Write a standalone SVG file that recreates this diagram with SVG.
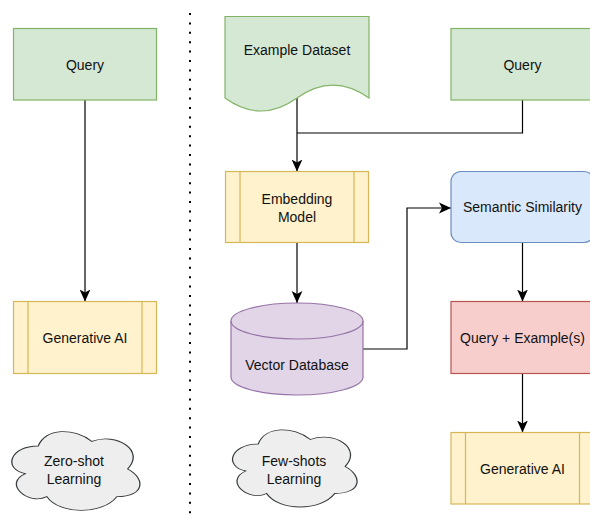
<svg xmlns="http://www.w3.org/2000/svg" width="590" height="522" viewBox="0 0 590 522">
<style>
text{font-family:"Liberation Sans",Arial,Helvetica,sans-serif;font-size:14px;fill:#111;text-anchor:middle;dominant-baseline:central}
.green{fill:#d5e8d4;stroke:#82b366;stroke-width:1.2}
.yellow{fill:#fff2cc;stroke:#d6b656;stroke-width:1.2}
.purple{fill:#e1d5e7;stroke:#9673a6;stroke-width:1.2}
.blue{fill:#dae8fc;stroke:#6c8ebf;stroke-width:1.2}
.red{fill:#f8cecc;stroke:#b85450;stroke-width:1.2}
.cloud{fill:#eeeeee;stroke:#36393d;stroke-width:1}
.edge{fill:none;stroke:#000;stroke-width:1.2}
.arr{marker-end:url(#ah)}
</style>
<defs>
<marker id="ah" markerUnits="userSpaceOnUse" markerWidth="12" markerHeight="12" viewBox="0 0 10 10" refX="10" refY="5" orient="auto">
<path d="M0,0.5 L10,5 L0,9.5 L2.5,5 Z" fill="#000"/>
</marker>
<path id="cloudshape" d="M0.25,0.25 C0.05,0.25 0,0.5 0.16,0.55 C0,0.66 0.18,0.9 0.31,0.8 C0.4,1 0.7,1 0.8,0.8 C1,0.8 1,0.6 0.875,0.5 C1,0.3 0.8,0.1 0.625,0.2 C0.5,0.05 0.3,0.05 0.25,0.25 Z"/>
</defs>
<rect width="590" height="522" fill="#fff"/>

<line id="divider" x1="190" y1="13" x2="190" y2="519" stroke="#000" stroke-width="2" stroke-dasharray="2 7.4"/>

<g id="connectors">
<path class="edge arr" d="M85,100 V301.5"/>
<path class="edge arr" d="M297,98 V171.5"/>
<path class="edge" d="M522.5,100 V133 H297"/>
<path class="edge arr" d="M297,242.5 V303"/>
<path class="edge arr" d="M363,349 H407 V208 H451"/>
<path class="edge arr" d="M522.5,242.5 V301.5"/>
<path class="edge arr" d="M522.5,373.5 V432.5"/>
</g>

<g id="query-left">
<rect class="green" x="13.5" y="28.5" width="143" height="71.5"/>
<text x="85" y="64.5">Query</text>
</g>

<g id="genai-left">
<rect class="yellow" x="13.5" y="301.5" width="143" height="72"/>
<line class="yellow" x1="28" y1="301.5" x2="28" y2="373.5"/>
<line class="yellow" x1="142" y1="301.5" x2="142" y2="373.5"/>
<text x="85" y="337.5">Generative AI</text>
</g>

<g id="cloud-zero">
<use href="#cloudshape" class="cloud" transform="translate(2.5,423) scale(143,92)" vector-effect="non-scaling-stroke" style="stroke-width:0.009"/>
<text x="74" y="461">Zero-shot</text>
<text x="74" y="478.5">Learning</text>
</g>

<g id="example-dataset">
<path class="green" d="M225,16.5 H369 V98 Q333,72.2 297,98 Q261,124 225,98 Z"/>
<text x="297" y="50">Example Dataset</text>
</g>

<g id="query-right">
<rect class="green" x="451" y="28.5" width="143" height="71.5"/>
<text x="522.5" y="64.5">Query</text>
</g>

<g id="embedding-model">
<rect class="yellow" x="225.5" y="171.5" width="143" height="71"/>
<line class="yellow" x1="240" y1="171.5" x2="240" y2="242.5"/>
<line class="yellow" x1="354" y1="171.5" x2="354" y2="242.5"/>
<text x="297" y="199">Embedding</text>
<text x="297" y="216.5">Model</text>
</g>

<g id="vector-database">
<path class="purple" d="M231,321 A66,18 0 0 1 363,321 V377 A66,18 0 0 1 231,377 Z"/>
<path class="purple" style="fill:none" d="M231,321 A66,18 0 0 0 363,321"/>
<text x="297" y="365">Vector Database</text>
</g>

<g id="semantic-similarity">
<rect class="blue" x="451" y="171.5" width="143" height="71" rx="10" ry="10"/>
<text x="522.5" y="207">Semantic Similarity</text>
</g>

<g id="query-example">
<rect class="red" x="451" y="301.5" width="143" height="72"/>
<text x="522.5" y="338">Query + Example(s)</text>
</g>

<g id="genai-right">
<rect class="yellow" x="451" y="432.5" width="143" height="71.5"/>
<line class="yellow" x1="465.5" y1="432.5" x2="465.5" y2="504"/>
<line class="yellow" x1="579.5" y1="432.5" x2="579.5" y2="504"/>
<text x="522.5" y="469">Generative AI</text>
</g>

<g id="cloud-few">
<use href="#cloudshape" class="cloud" transform="translate(223.5,421.5) scale(139,90)" style="stroke-width:0.009"/>
<text x="294" y="461">Few-shots</text>
<text x="294" y="478.5">Learning</text>
</g>
</svg>
